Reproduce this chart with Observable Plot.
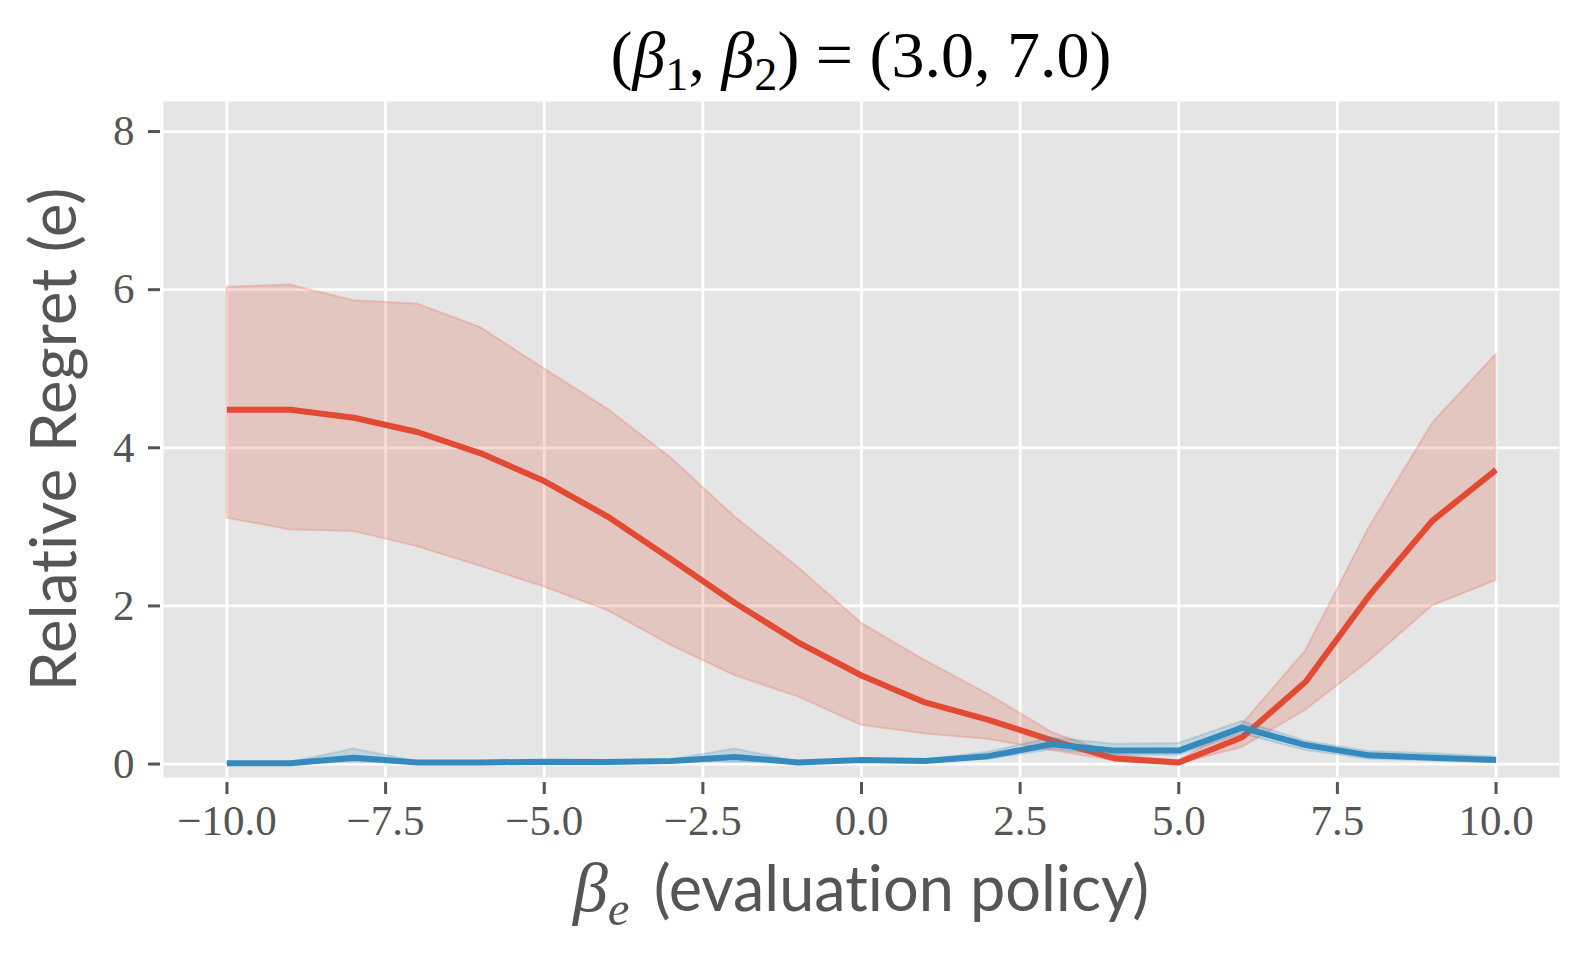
<!DOCTYPE html>
<html>
<head>
<meta charset="utf-8">
<script src="https://cdn.jsdelivr.net/npm/d3@7"></script>
<script src="https://cdn.jsdelivr.net/npm/@observablehq/plot@0.6"></script>
<style>
  html, body { margin: 0; padding: 0; background: white; }
  #fig { position: relative; width: 1588px; height: 958px; overflow: hidden; }
  #title {
    position: absolute; left: 163px; width: 1396px; top: 22px;
    text-align: center; font-family: "Liberation Serif", serif; font-size: 66px;
    line-height: 66px; color: #000; white-space: nowrap;
  }
  #title sub, #xlabel sub { font-size: 0.7em; vertical-align: baseline; position: relative; top: 0.28em; line-height: 0; }
  #chart { position: absolute; left: 0; top: 101px; }
  #xlabel {
    position: absolute; left: 163px; width: 1396px; top: 855px;
    text-align: center; font-family: "Lato", sans-serif; font-size: 63px;
    line-height: 63px; color: #555; white-space: nowrap; font-variant-ligatures: none;
  }
  #xlabel .b { font-family: "Liberation Serif", serif; font-style: italic; font-size: 70px; margin-right: 8px; }
  #chart [aria-label="y-axis label"] text, #chart g[aria-label="y-axis label"] {
    font-family: "Lato", sans-serif; font-size: 64px; fill: #555; font-variant-ligatures: none;
  }
</style>
</head>
<body>
<div id="fig">
  <div id="title">(<i>β</i><sub>1</sub>, <i>β</i><sub>2</sub>) = (3.0, 7.0)</div>
  <div id="chart"></div>
  <div id="xlabel"><span class="b">β<sub>e</sub></span> (evaluation policy)</div>
</div>
<script>
const betaE = [-10, -9, -8, -7, -6, -5, -4, -3, -2, -1, 0, 1, 2, 3, 4, 5, 6, 7, 8, 9, 10];
const redMean = [4.48, 4.48, 4.38, 4.20, 3.93, 3.58, 3.13, 2.59, 2.04, 1.54, 1.12, 0.78, 0.56, 0.30, 0.07, 0.02, 0.34, 1.04, 2.13, 3.08, 3.72];
const redLow  = [3.11, 2.96, 2.94, 2.75, 2.50, 2.24, 1.94, 1.50, 1.12, 0.85, 0.49, 0.38, 0.31, 0.17, 0.04, 0.00, 0.21, 0.68, 1.30, 2.00, 2.32];
const redHigh = [6.03, 6.06, 5.86, 5.82, 5.52, 5.00, 4.49, 3.87, 3.13, 2.49, 1.78, 1.31, 0.88, 0.40, 0.12, 0.04, 0.50, 1.43, 2.99, 4.31, 5.18];
const blueMean = [0.01, 0.01, 0.08, 0.02, 0.02, 0.03, 0.025, 0.04, 0.09, 0.02, 0.05, 0.04, 0.10, 0.25, 0.17, 0.17, 0.46, 0.24, 0.11, 0.08, 0.05];
const blueLow  = [0.00, 0.00, 0.02, 0.01, 0.01, 0.02, 0.015, 0.03, 0.02, 0.01, 0.04, 0.03, 0.06, 0.18, 0.11, 0.11, 0.38, 0.17, 0.06, 0.04, 0.02];
const blueHigh = [0.02, 0.02, 0.19, 0.03, 0.03, 0.04, 0.035, 0.05, 0.19, 0.03, 0.06, 0.05, 0.15, 0.33, 0.25, 0.26, 0.54, 0.29, 0.16, 0.13, 0.09];
const xTicks = [-10, -7.5, -5, -2.5, 0, 2.5, 5, 7.5, 10];
const yTicks = [0, 2, 4, 6, 8];

const RED = "#E24A33", BLUE = "#348ABD";
const red = betaE.map((x, i) => ({x, mean: redMean[i], lo: redLow[i], hi: redHigh[i]}));
const blue = betaE.map((x, i) => ({x, mean: blueMean[i], lo: blueLow[i], hi: blueHigh[i]}));
const fmtX = d => (d < 0 ? "\u2212" : "") + Math.abs(d).toFixed(1);

const chart = Plot.plot({
  width: 1588, height: 745,
  marginLeft: 163, marginRight: 29, marginTop: 0, marginBottom: 69,
  x: {domain: [-11, 11]},
  y: {domain: [-0.17, 8.38]},
  style: {fontFamily: "Liberation Serif", fontSize: "43px", color: "#555", background: "transparent", overflow: "visible"},
  marks: [
    Plot.frame({fill: "#E5E5E5", stroke: null}),
    Plot.gridX(xTicks, {stroke: "white", strokeOpacity: 1, strokeWidth: 2.8}),
    Plot.gridY(yTicks, {stroke: "white", strokeOpacity: 1, strokeWidth: 2.8}),
    Plot.areaY(red, {x: "x", y1: "lo", y2: "hi", fill: RED, fillOpacity: 0.2, stroke: RED, strokeOpacity: 0.2, strokeWidth: 2}),
    Plot.line(red, {x: "x", y: "mean", stroke: RED, strokeWidth: 6, strokeLinejoin: "miter", strokeLinecap: "butt"}),
    Plot.areaY(blue, {x: "x", y1: "lo", y2: "hi", fill: BLUE, fillOpacity: 0.2, stroke: BLUE, strokeOpacity: 0.2, strokeWidth: 2}),
    Plot.line(blue, {x: "x", y: "mean", stroke: BLUE, strokeWidth: 6, strokeLinejoin: "miter", strokeLinecap: "butt"}),
    Plot.axisX(xTicks, {tickFormat: fmtX, tickSize: 12, dy: 5, tickPadding: 10, strokeWidth: 3, label: null}),
    Plot.axisY(yTicks, {tickFormat: d => String(d), tickSize: 12, dx: -3, tickPadding: 14, strokeWidth: 3,
      label: "Relative Regret (e)", labelAnchor: "center", labelArrow: "none", labelOffset: 133})
  ]
});
document.getElementById("chart").appendChild(chart);
</script>
</body>
</html>
